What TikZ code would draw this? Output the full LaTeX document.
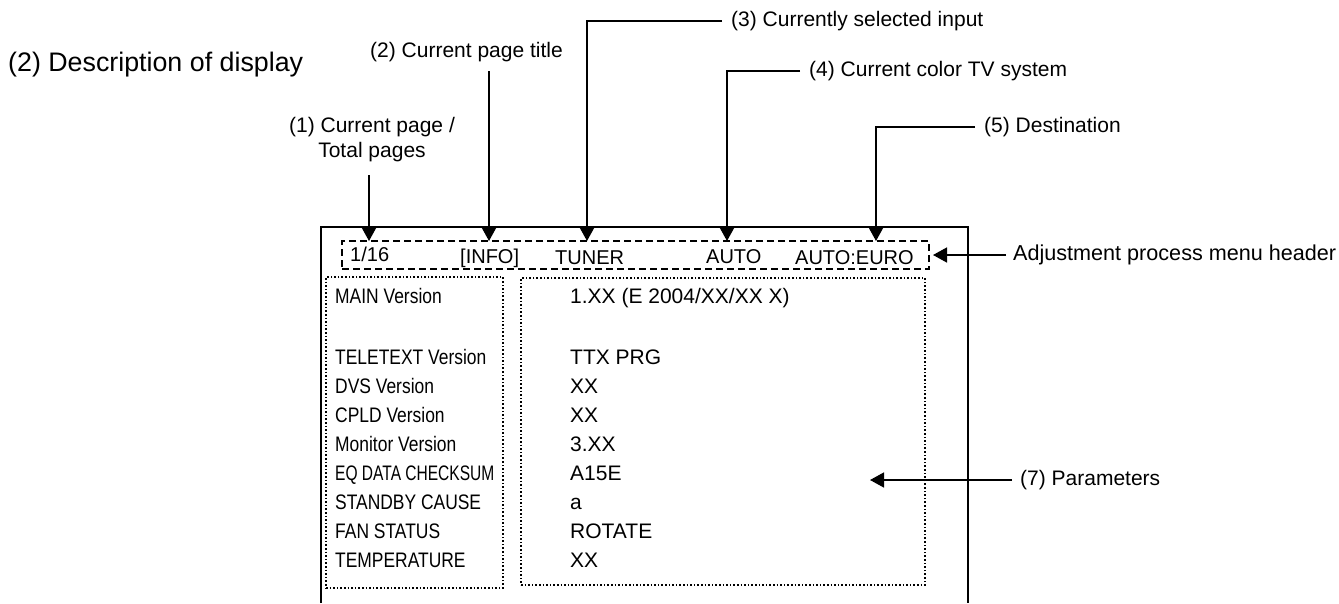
\documentclass[tikz,border=0pt]{standalone}
\usepackage{fontspec}
\setmainfont{Liberation Sans}
\newfontfamily\narrowfont[FakeStretch=0.83]{Liberation Sans}
\newfontfamily\narrowerfont[FakeStretch=0.74]{Liberation Sans}
\usetikzlibrary{arrows.meta}
\tikzset{
  lbl/.style={inner xsep=9pt, inner ysep=1pt, anchor=west, font=\fontsize{21}{25}\selectfont},
  arr/.style={line width=1.5pt, -{Triangle[length=14pt,width=15pt]}},
  plain/.style={line width=1.5pt},
  hdrbox/.style={draw, line width=1.8pt, dash pattern=on 7pt off 4pt, inner sep=0pt},
  dotbox/.style={draw, line width=1.3pt, dash pattern=on 1.6pt off 2pt, inner sep=0pt},
  hdrtxt/.style={anchor=base west, inner sep=0pt, font=\fontsize{20}{24}\selectfont},
  keytxt/.style={anchor=base west, inner sep=0pt, font=\narrowfont\fontsize{21}{24}\selectfont},
  valtxt/.style={anchor=base west, inner sep=0pt, font=\fontsize{21}{24}\selectfont},
}
\begin{document}
\begin{tikzpicture}[x=1pt,y=-1pt]
\useasboundingbox (0,0) rectangle (1339,603);

% title
\node[anchor=base west, inner sep=0pt, font=\fontsize{26.8}{31}\selectfont] (title) at (8,71) {(2) Description of display};

% outer screen
\draw[plain] (321,603) -- (321,227) -- (968,227) -- (968,603);

% header dashed box and dotted boxes
\node[hdrbox, minimum width=587pt, minimum height=28pt] (hdr) at (635.5,255) {};
\node[dotbox, minimum width=177pt, minimum height=311pt] (keys) at (414.5,432.5) {};
\node[dotbox, minimum width=404pt, minimum height=307pt] (vals) at (723,431.5) {};

% header texts
\node[hdrtxt] (h1) at (350,261) {1/16};
\node[hdrtxt] (h2) at (460,263) {[INFO]};
\node[hdrtxt] (h3) at (555,264) {TUNER};
\node[hdrtxt] (h4) at (706,263) {AUTO};
\node[hdrtxt] (h5) at (795,264) {AUTO:EURO};

% key column
\node[keytxt] (k1) at (335,303) {MAIN Version};
\node[keytxt] (k2) at (335,364) {TELETEXT Version};
\node[keytxt] (k3) at (335,393) {DVS Version};
\node[keytxt] (k4) at (335,422) {CPLD Version};
\node[keytxt] (k5) at (335,451) {Monitor Version};
\node[keytxt, font=\narrowerfont\fontsize{21}{24}\selectfont] (k6) at (335,480) {EQ DATA CHECKSUM};
\node[keytxt] (k7) at (335,509) {STANDBY CAUSE};
\node[keytxt] (k8) at (335,538) {FAN STATUS};
\node[keytxt] (k9) at (335,567) {TEMPERATURE};

% value column
\node[valtxt] (v1) at (570,303) {1.XX (E 2004/XX/XX X)};
\node[valtxt] (v2) at (570,364) {TTX PRG};
\node[valtxt] (v3) at (570,393) {XX};
\node[valtxt] (v4) at (570,422) {XX};
\node[valtxt] (v5) at (570,451) {3.XX};
\node[valtxt] (v6) at (570,480) {A15E};
\node[valtxt] (v7) at (570,509) {a};
\node[valtxt] (v8) at (570,538) {ROTATE};
\node[valtxt] (v9) at (570,567) {XX};

% labels
\node[inner sep=0pt, align=center, font=\fontsize{21}{25}\selectfont] (lab1) at (372,140) {(1) Current page /\\Total pages};
\node[anchor=base west, inner sep=0pt, font=\fontsize{21}{25}\selectfont] (lab2) at (370,57) {(2) Current page title};
\node[lbl] (lab3) at (722,21) {(3) Currently selected input};
\node[lbl] (lab4) at (800,71) {(4) Current color TV system};
\node[lbl] (lab5) at (975,127) {(5) Destination};
\node[lbl, inner xsep=7pt, font=\fontsize{21.6}{25}\selectfont] (adj) at (1006,255) {Adjustment process menu header};
\node[lbl, inner xsep=8pt] (par) at (1012,480) {(7) Parameters};

% connector ends
\coordinate (s1) at (369,175);
\coordinate (s2) at (489,71);
\coordinate (t1) at (369,241);
\coordinate (t2) at (489,241);
\coordinate (t3) at (587,241);
\coordinate (t4) at (727,241);
\coordinate (t5) at (876,241);
\coordinate (tadj) at (933,255);
\coordinate (tpar) at (870,480);

\draw[arr] (s1) -- (t1);
\draw[arr] (s2) -- (t2);
\draw[arr] (lab3.west) -| (t3);
\draw[arr] (lab4.west) -| (t4);
\draw[arr] (lab5.west) -| (t5);
\draw[arr] (adj.west) -- (tadj);
\draw[arr] (par.west) -- (tpar);
\end{tikzpicture}
\end{document}
